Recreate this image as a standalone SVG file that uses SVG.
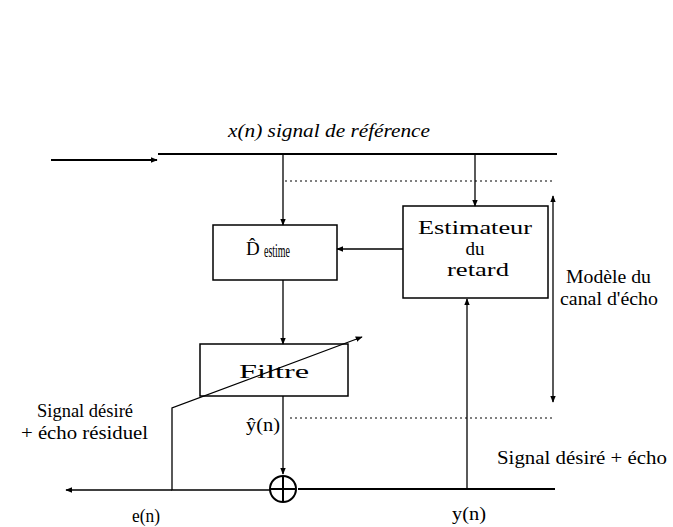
<svg xmlns="http://www.w3.org/2000/svg" width="673" height="527" viewBox="0 0 673 527">
<defs>
<marker id="ah" viewBox="0 0 10 10" refX="9" refY="5" markerWidth="7" markerHeight="7" orient="auto-start-reverse" markerUnits="userSpaceOnUse">
<path d="M0,1 L10,5 L0,9 z" fill="#000"/>
</marker>
</defs>
<style>
.ln{stroke:#000;stroke-width:1.3;fill:none}
.thick{stroke:#000;stroke-width:2;fill:none}
.dot{stroke:#000;stroke-width:1;fill:none;stroke-dasharray:2 3}
.box{stroke:#000;stroke-width:1.5;fill:none}
text{font-family:'Liberation Serif','Tinos','DejaVu Serif',serif;font-size:19px;fill:#000}
.c{text-anchor:middle}
</style>
<rect width="673" height="527" fill="#fff"/>
<g id="title"><text x="228" y="137" font-style="italic" textLength="202" lengthAdjust="spacingAndGlyphs">x(n) signal de référence</text></g>
<g id="connectors">
<line class="thick" x1="51" y1="160" x2="157" y2="160" marker-end="url(#ah)"/>
<line class="thick" x1="158" y1="154" x2="557" y2="154"/>
<line class="dot" x1="285" y1="181" x2="555" y2="181"/>
<line class="dot" x1="290" y1="418" x2="555" y2="418"/>
<line class="ln" x1="283" y1="155" x2="283" y2="225" marker-end="url(#ah)"/>
<line class="ln" x1="475" y1="155" x2="475" y2="206" marker-end="url(#ah)"/>
<line class="ln" x1="403" y1="249" x2="337" y2="249" marker-end="url(#ah)"/>
<line class="ln" x1="283" y1="280" x2="283" y2="344" marker-end="url(#ah)"/>
<line class="ln" x1="283" y1="396" x2="283" y2="474" marker-end="url(#ah)"/>
<polyline class="ln" points="270,490 172,490 172,408 362,337" marker-end="url(#ah)"/>
<line class="ln" x1="172" y1="490" x2="66" y2="490" marker-end="url(#ah)"/>
<line class="thick" x1="298" y1="489" x2="555" y2="489"/>
<line class="ln" x1="467" y1="489" x2="467" y2="299" marker-end="url(#ah)"/>
<line class="ln" x1="553" y1="196" x2="553" y2="402" marker-start="url(#ah)" marker-end="url(#ah)"/>
</g>
<g id="D_estime">
<rect class="box" x="213" y="225" width="124" height="55"/>
<text x="246" y="255" font-size="19">D̂</text>
<text x="264" y="257" font-size="10" textLength="26" lengthAdjust="spacingAndGlyphs">estime</text>
</g>
<g id="estimateur">
<rect class="box" x="403" y="206" width="145" height="92"/>
<text x="418" y="234" font-size="20" textLength="114" lengthAdjust="spacingAndGlyphs">Estimateur</text>
<text class="c" x="475" y="255" font-size="20">du</text>
<text x="447" y="276" font-size="20" textLength="62" lengthAdjust="spacingAndGlyphs">retard</text>
</g>
<g id="filtre">
<rect class="box" x="200" y="344" width="148" height="52"/>
<text x="239" y="378" font-size="22" textLength="70" lengthAdjust="spacingAndGlyphs">Filtre</text>
</g>
<g id="sum">
<circle cx="283" cy="489" r="13" class="ln" style="stroke-width:2"/>
<line class="thick" x1="270" y1="489" x2="296" y2="489"/>
<line class="thick" x1="283" y1="476" x2="283" y2="502"/>
</g>
<g id="labels">
<text x="566" y="283" textLength="85" lengthAdjust="spacingAndGlyphs">Modèle du</text>
<text x="560" y="305" textLength="98" lengthAdjust="spacingAndGlyphs">canal d'écho</text>
<text x="37" y="417" textLength="96" lengthAdjust="spacingAndGlyphs">Signal désiré</text>
<text x="21" y="439" textLength="127" lengthAdjust="spacingAndGlyphs">+ écho résiduel</text>
<text x="246" y="431" textLength="34" lengthAdjust="spacingAndGlyphs">ŷ(n)</text>
<text x="497" y="464" textLength="170" lengthAdjust="spacingAndGlyphs">Signal désiré + écho</text>
<text x="132" y="522" textLength="28" lengthAdjust="spacingAndGlyphs">e(n)</text>
<text x="452" y="520" textLength="34" lengthAdjust="spacingAndGlyphs">y(n)</text>
</g>
</svg>
